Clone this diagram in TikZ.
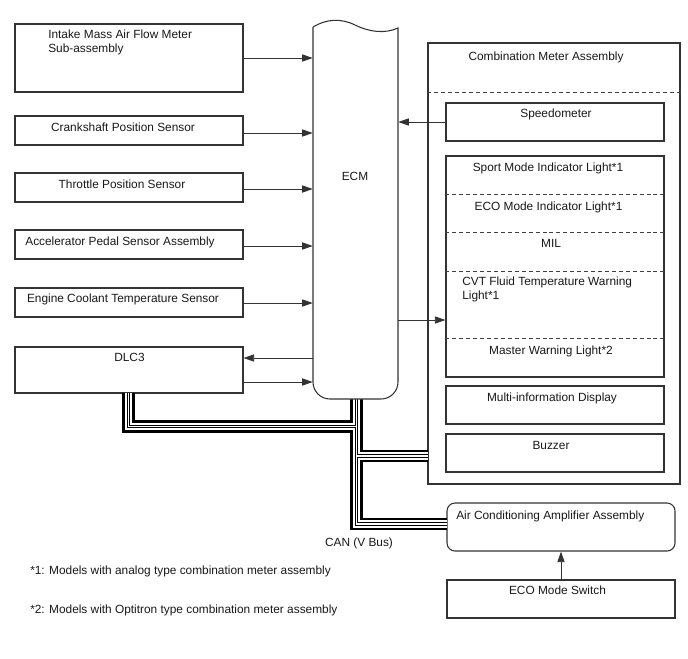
\documentclass[tikz,border=0pt]{standalone}
\usepackage{fontspec}
\setmainfont{Liberation Sans}
\usetikzlibrary{arrows.meta,fit}
\begin{document}
\begin{tikzpicture}[x=0.75pt,y=-0.75pt,
  box/.style={draw=black!80, line width=0.8pt, inner sep=0pt},
  txt/.style={font=\fontsize{8.9pt}{9.9pt}\selectfont, text=black!90, inner sep=0pt},
  arr/.style={draw=black!80, line width=0.7pt, -{Triangle[length=8pt,width=5.4pt]}},
  dsh/.style={draw=black!75, line width=0.6pt, dash pattern=on 3pt off 2.2pt},
  busA/.style={line width=9.4pt, black, line join=miter, line cap=butt},
  busB/.style={line width=5.6pt, white, line join=miter, line cap=butt},
  busC/.style={line width=2.6pt, black, line join=miter, line cap=butt},
  busD/.style={line width=1.05pt, white, line join=miter, line cap=butt},
]
\useasboundingbox[fill=white] (0,0) rectangle (688,658);

% boxes (named)
\node[box, fit={(15,24)(243,92)}] (maf) {};
\node[box, fit={(15,116)(243,145)}] (crank) {};
\node[box, fit={(15,173)(243,202)}] (thr) {};
\node[box, fit={(15,230)(243,259)}] (acc) {};
\node[box, fit={(15,288)(243,317)}] (ect) {};
\node[box, fit={(15,347)(243,393)}] (dlc) {};
\node[inner sep=0pt, fit={(313,27)(398,399)}] (ecm) {};
\node[box, fit={(428,43)(680,484)}] (cma) {};
\node[box, fit={(446,103)(664,141)}] (spd) {};
\node[box, fit={(446,156)(664,377)}] (lts) {};
\node[box, fit={(446,386)(664,424)}] (mid) {};
\node[box, fit={(446,434)(664,472)}] (buz) {};
\node[box, rounded corners=6pt, fit={(447,503)(675,551)}] (ac) {};
\node[box, fit={(447,580)(675,618)}] (eco) {};

% CAN bus
\coordinate (c1) at (128.5,393);
\coordinate (c2) at (128.5,426.5);
\coordinate (c3) at (356.5,426.5);
\coordinate (c4) at (356.5,399);
\coordinate (c5) at (356.5,524);
\coordinate (c6) at (447,524);
\coordinate (c7) at (356.5,456);
\coordinate (c8) at (428,456);
\foreach \s in {busA,busB,busC,busD}{
  \draw[\s] (c1) -- (c2) -- (c3) -- (c4);
  \draw[\s] (c3) -- (c5) -- (c6);
  \draw[\s] (c7) -- (c8);
}

% ECM shape
\draw[draw=black!80, line width=0.8pt, fill=white]
  (313,27) .. controls (326,19) and (341,18) .. (355,25)
  .. controls (369,32) and (385,34) .. (398,28)
  [rounded corners=12.75pt] -- (398,399) -- (313,399) -- (313,27);

% dashed separators
\draw[dsh] (cma.west |- 0,92) -- (cma.east |- 0,92);
\foreach \yy in {194,232,271,338}{
  \draw[dsh] (lts.west |- 0,\yy) -- (lts.east |- 0,\yy);
}

% arrows
\draw[arr] (maf.east) -- (maf.east -| ecm.west);
\draw[arr] (crank.east |- 0,133) -- (ecm.west |- 0,133);
\draw[arr] (thr.east |- 0,189) -- (ecm.west |- 0,189);
\draw[arr] (acc.east |- 0,246) -- (ecm.west |- 0,246);
\draw[arr] (ect.east |- 0,303) -- (ecm.west |- 0,303);
\draw[arr] (ecm.west |- 0,358) -- (dlc.east |- 0,358);
\draw[arr] (dlc.east |- 0,382) -- (ecm.west |- 0,382);
\draw[arr] (spd.west) -- (spd.west -| ecm.east);
\draw[arr] (ecm.east |- 0,320) -- (lts.west |- 0,320);
\draw[arr] (eco.north) -- (ac.south);

% texts
\node[txt, anchor=base west, align=left] (mafT) at (48,52) {Intake Mass Air Flow Meter\\Sub-assembly};
\node[txt, anchor=base] (crankT) at (123,131) {Crankshaft Position Sensor};
\node[txt, anchor=base] (thrT) at (122,188) {Throttle Position Sensor};
\node[txt, anchor=base] (accT) at (120,245) {Accelerator Pedal Sensor Assembly};
\node[txt, anchor=base] (ectT) at (123,302) {Engine Coolant Temperature Sensor};
\node[txt, anchor=base] (dlcT) at (129.5,361) {DLC3};
\node[txt, anchor=base] (ecmT) at (355,180) {ECM};
\node[txt, anchor=base] (cmaT) at (546,60) {Combination Meter Assembly};
\node[txt, anchor=base] (spdT) at (556,117) {Speedometer};
\node[txt, anchor=base] (sptT) at (548,171) {Sport Mode Indicator Light*1};
\node[txt, anchor=base] (ecoiT) at (548.5,210) {ECO Mode Indicator Light*1};
\node[txt, anchor=base] (milT) at (551,247) {MIL};
\node[txt, anchor=base west, align=left] (cvtT) at (462,299) {CVT Fluid Temperature Warning\\Light*1};
\node[txt, anchor=base] (mwlT) at (551,354) {Master Warning Light*2};
\node[txt, anchor=base] (midT) at (552,401) {Multi-information Display};
\node[txt, anchor=base] (buzT) at (551,449) {Buzzer};
\node[txt, anchor=base west] (acT) at (456,519) {Air Conditioning Amplifier Assembly};
\node[txt, anchor=base] (ecoT) at (557.5,594) {ECO Mode Switch};
\node[txt, anchor=base] (canT) at (359,546) {CAN (V Bus)};
\node[txt, anchor=base west] (fn1) at (30,574) {*1: Models with analog type combination meter assembly};
\node[txt, anchor=base west] (fn2) at (30,613) {*2: Models with Optitron type combination meter assembly};
\end{tikzpicture}
\end{document}
